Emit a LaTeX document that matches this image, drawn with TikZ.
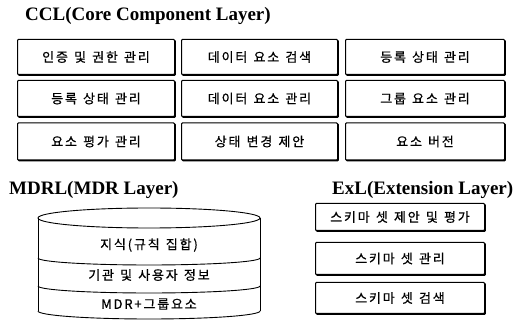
\documentclass[tikz,border=0pt]{standalone}
\usepackage{fontspec}
\setmainfont{Liberation Serif}
\newfontfamily\kr[LetterSpace=14,WordSpace=1.3,FakeBold=0.6]{Noto Sans CJK KR}
\usetikzlibrary{shadows}
\begin{document}
\begin{tikzpicture}[x=1pt,y=-1pt,
  ttl/.style={font=\fontsize{19}{21}\selectfont\bfseries, inner sep=0pt},
  cbox/.style={draw, line width=1pt, rounded corners=0.8pt, fill=white,
    copy shadow={shadow xshift=0.9pt, shadow yshift=-0.9pt, fill=black, draw=black},
    font=\kr\fontsize{13}{15}\selectfont, inner sep=0pt, minimum width=#1},
  cbox/.default=157pt,
  ltxt/.style={font=\kr\fontsize{13}{15}\selectfont, inner sep=0pt}]
\useasboundingbox (0,0) rectangle (515,326);
% titles
\node[ttl, anchor=west] (tccl) at (25,16) {CCL(Core Component Layer)};
\node[ttl, anchor=west] (tmdr) at (9,190) {MDRL(MDR Layer)};
\node[ttl, anchor=west] (texl) at (332,190) {ExL(Extension Layer)};
% CCL grid
\node[cbox=157pt, minimum height=35pt] (a1) at (96,57) {인증 및 권한 관리};
\node[cbox=156pt, minimum height=35pt] (a2) at (259.5,57) {데이터 요소 검색};
\node[cbox=159pt, minimum height=35pt] (a3) at (425,57) {등록 상태 관리};
\node[cbox=157pt, minimum height=36pt] (b1) at (96,98.5) {등록 상태 관리};
\node[cbox=156pt, minimum height=36pt] (b2) at (259.5,98.5) {데이터 요소 관리};
\node[cbox=159pt, minimum height=36pt] (b3) at (425,98.5) {그룹 요소 관리};
\node[cbox=157pt, minimum height=37pt] (c1) at (96,141.5) {요소 평가 관리};
\node[cbox=156pt, minimum height=37pt] (c2) at (259.5,141.5) {상태 변경 제안};
\node[cbox=159pt, minimum height=37pt] (c3) at (425,141.5) {요소 버전};
% MDRL cylinder
\begin{scope}[line width=0.9pt]
\draw (149,218) ellipse [x radius=111, y radius=10];
\draw (38,218) -- (38,311);
\draw (260,218) -- (260,311);
\draw (38,258) arc [start angle=180, end angle=360, x radius=111, y radius=-7];
\draw (38,286) arc [start angle=180, end angle=360, x radius=111, y radius=-7];
\draw (38,311) arc [start angle=180, end angle=360, x radius=111, y radius=-8];
\end{scope}
\node[ltxt] (m1) at (149,245) {지식(규칙 집합)};
\node[ltxt] (m2) at (149,275) {기관 및 사용자 정보};
\node[ltxt] (m3) at (149,304) {MDR+그룹요소};
% ExL
\node[cbox=169pt, minimum height=27pt] (e1) at (400,217) {스키마 셋 제안 및 평가};
\node[cbox=169pt, minimum height=32pt] (e2) at (400,258.5) {스키마 셋 관리};
\node[cbox=169pt, minimum height=31pt] (e3) at (400,298) {스키마 셋 검색};
\end{tikzpicture}
\end{document}
